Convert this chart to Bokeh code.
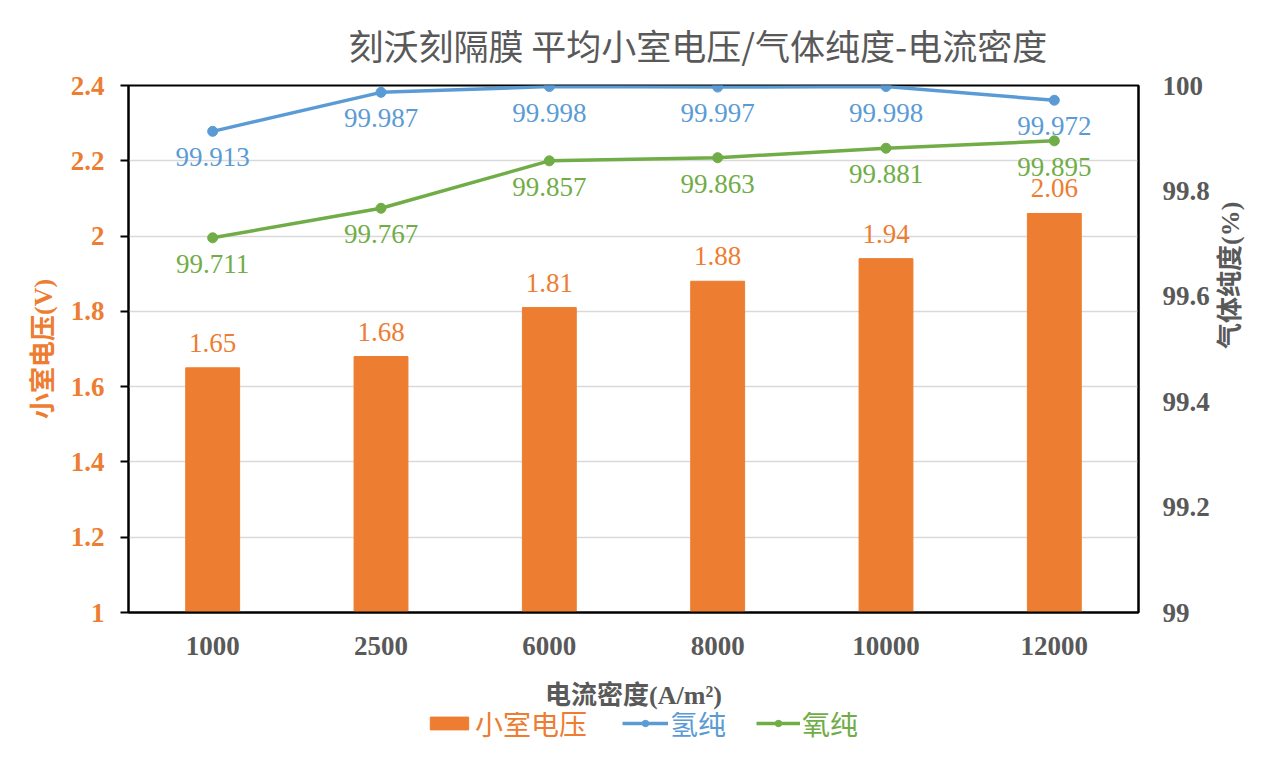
import math
from bokeh.plotting import figure
from bokeh.layouts import column
from bokeh.models import (FactorRange, Range1d, LinearAxis, FixedTicker, Legend,
                          LegendItem, Title, LabelSet, ColumnDataSource,
                          CustomJSTickFormatter)
from bokeh.embed import file_html
from bokeh.resources import INLINE
from bokeh.core.properties import value

# ---------------- data ----------------
title_text = "刻沃刻隔膜 平均小室电压/气体纯度-电流密度"
categories = ["1000", "2500", "6000", "8000", "10000", "12000"]
voltage = [1.65, 1.68, 1.81, 1.88, 1.94, 2.06]
h2_purity = [99.913, 99.987, 99.998, 99.997, 99.998, 99.972]
o2_purity = [99.711, 99.767, 99.857, 99.863, 99.881, 99.895]
voltage_labels = ["1.65", "1.68", "1.81", "1.88", "1.94", "2.06"]
h2_labels = ["99.913", "99.987", "99.998", "99.997", "99.998", "99.972"]
o2_labels = ["99.711", "99.767", "99.857", "99.863", "99.881", "99.895"]
left_ticks = [1.0, 1.2, 1.4, 1.6, 1.8, 2.0, 2.2, 2.4]
left_tick_labels = ["1", "1.2", "1.4", "1.6", "1.8", "2", "2.2", "2.4"]
right_ticks = [99.0, 99.2, 99.4, 99.6, 99.8, 100.0]
right_tick_labels = ["99", "99.2", "99.4", "99.6", "99.8", "100"]
series_names = ["小室电压", "氢纯", "氧纯"]
x_title = "电流密度(A/m²)"
y_left_title = "小室电压(V)"
y_right_title = "气体纯度(%)"

# ---------------- styles ----------------
ORANGE = "#ED7D31"
BLUE = "#5B9BD5"
GREEN = "#70AD47"
GRAY = "#595959"
SERIF = "Liberation Serif"
MIXED = "Liberation Serif, Noto Sans CJK SC"
CJK = "Noto Sans CJK SC"
LEG_FONT = "Liberation Sans, Noto Sans CJK SC"

fmt_code = """
let best = 0, bd = Infinity;
for (let i = 0; i < tvals.length; i++) {
  const d = Math.abs(tvals[i] - tick);
  if (d < bd) { bd = d; best = i; }
}
return tlabels[best];
"""

W = 1263
P_H = 712
L_H = 31

p = figure(x_range=FactorRange(factors=categories, range_padding=0),
           y_range=Range1d(1, 2.4),
           width=W, height=P_H, output_backend="svg", toolbar_location=None,
           min_border_left=128, min_border_right=125, min_border_top=84,
           min_border_bottom=97)
p.extra_y_ranges = {"pct": Range1d(99, 100)}
p.outline_line_color = "black"
p.outline_line_width = 2
p.background_fill_color = "white"
p.border_fill_color = "white"

p.title = Title(text=title_text, align="left", offset=220, standoff=32,
                text_font=CJK, text_font_size="35px", text_font_style="normal",
                text_color=GRAY)

# grid
p.xgrid.visible = False
p.ygrid.ticker = FixedTicker(ticks=left_ticks)
p.ygrid.grid_line_color = "#D9D9D9"
p.ygrid.grid_line_width = 1.5

# left axis
ya = p.yaxis[0]
ya.ticker = FixedTicker(ticks=left_ticks)
ya.formatter = CustomJSTickFormatter(args=dict(tvals=left_ticks, tlabels=left_tick_labels), code=fmt_code)
ya.axis_line_color = "black"
ya.axis_line_width = 2
ya.major_tick_in = 0
ya.major_tick_out = 8
ya.major_tick_line_color = "black"
ya.major_tick_line_width = 2
ya.minor_tick_line_color = None
ya.major_label_text_font = SERIF
ya.major_label_text_font_style = "bold"
ya.major_label_text_font_size = "27px"
ya.major_label_text_color = ORANGE
ya.major_label_standoff = 16
ya.axis_label = y_left_title
ya.axis_label_text_font = MIXED
ya.axis_label_text_font_style = "bold"
ya.axis_label_text_font_size = "26px"
ya.axis_label_text_color = ORANGE
ya.axis_label_standoff = 10

# right axis
ra = LinearAxis(y_range_name="pct", ticker=FixedTicker(ticks=right_ticks))
ra.formatter = CustomJSTickFormatter(args=dict(tvals=right_ticks, tlabels=right_tick_labels), code=fmt_code)
ra.axis_line_color = "black"
ra.axis_line_width = 2
ra.major_tick_in = 0
ra.major_tick_out = 0
ra.minor_tick_line_color = None
ra.major_label_text_font = SERIF
ra.major_label_text_font_style = "bold"
ra.major_label_text_font_size = "27px"
ra.major_label_text_color = GRAY
ra.major_label_standoff = 24
ra.axis_label = y_right_title
ra.axis_label_text_font = MIXED
ra.axis_label_text_font_style = "bold"
ra.axis_label_text_font_size = "26px"
ra.axis_label_text_line_height = 1.0
ra.axis_label_text_color = GRAY
ra.axis_label_standoff = 18
ra.axis_label_orientation = math.pi / 2
p.add_layout(ra, "right")

# bottom axis
xa = p.xaxis[0]
xa.axis_line_color = "black"
xa.axis_line_width = 2
xa.major_tick_in = 0
xa.major_tick_out = 0
xa.minor_tick_line_color = None
xa.major_label_text_font = SERIF
xa.major_label_text_font_style = "bold"
xa.major_label_text_font_size = "27px"
xa.major_label_text_color = GRAY
xa.major_label_standoff = 24
xa.axis_label = x_title
xa.axis_label_text_font = MIXED
xa.axis_label_text_font_style = "bold"
xa.axis_label_text_font_size = "26px"
xa.axis_label_text_color = GRAY
xa.axis_label_standoff = 23

# glyphs
src = ColumnDataSource(dict(cat=categories, v=voltage, h2=h2_purity, o2=o2_purity,
                            vl=voltage_labels, hl=h2_labels, ol=o2_labels))
p.vbar(x="cat", top="v", width=0.32, color=ORANGE, source=src)
p.line("cat", "h2", y_range_name="pct", color=BLUE, line_width=3.5, source=src)
p.scatter("cat", "h2", y_range_name="pct", color=BLUE, size=10, source=src)
p.line("cat", "o2", y_range_name="pct", color=GREEN, line_width=3.5, source=src)
p.scatter("cat", "o2", y_range_name="pct", color=GREEN, size=10, source=src)

# data labels
label_font = value(SERIF)
p.add_layout(LabelSet(x="cat", y="v", text="vl", source=src, text_align="center",
                      text_baseline="middle", y_offset=25, text_font=label_font,
                      text_font_size="27px", text_color=ORANGE))
p.add_layout(LabelSet(x="cat", y="h2", text="hl", source=src, y_range_name="pct",
                      text_align="center", text_baseline="middle", y_offset=-26,
                      text_font=label_font, text_font_size="27px", text_color=BLUE))
p.add_layout(LabelSet(x="cat", y="o2", text="ol", source=src, y_range_name="pct",
                      text_align="center", text_baseline="middle", y_offset=-26,
                      text_font=label_font, text_font_size="27px", text_color=GREEN))

# ---------------- legend strip ----------------
# legend proxies drawn from the same data, kept far outside the strip's visible y-range
lf = figure(width=W, height=L_H, x_range=FactorRange(factors=categories, range_padding=0),
            y_range=Range1d(500, 600),
            output_backend="svg", toolbar_location=None,
            x_axis_location=None, y_axis_location=None, min_border=0)
lf.outline_line_color = None
lf.grid.visible = False
lf.border_fill_color = "white"

k_bar = lf.vbar(x=categories, top=voltage, width=0.32, color=ORANGE)
k_h2_line = lf.line(categories, h2_purity, color=BLUE, line_width=3.5)
k_h2_pts = lf.scatter(categories, h2_purity, color=BLUE, size=10)
k_o2_line = lf.line(categories, o2_purity, color=GREEN, line_width=3.5)
k_o2_pts = lf.scatter(categories, o2_purity, color=GREEN, size=10)

def make_legend(name, renderers, color, loc, gw, gh):
    lg = Legend(items=[LegendItem(label=name, renderers=renderers)], location=loc,
                orientation="horizontal", glyph_width=gw, glyph_height=gh,
                label_standoff=2, padding=0, margin=0, spacing=0,
                border_line_alpha=0, background_fill_alpha=0,
                label_text_font=LEG_FONT, label_text_font_size="28px",
                label_text_color=color, label_text_baseline="middle")
    lf.add_layout(lg, "center")

make_legend(series_names[0], [k_bar], ORANGE, (297, 0), 48, 16)
make_legend(series_names[1], [k_h2_line, k_h2_pts], BLUE, (494, 0), 46, 16)
make_legend(series_names[2], [k_o2_line, k_o2_pts], GREEN, (628, 0), 44, 16)

layout = column(p, lf, spacing=0)
open("out.html", "w").write(file_html(layout, INLINE))
